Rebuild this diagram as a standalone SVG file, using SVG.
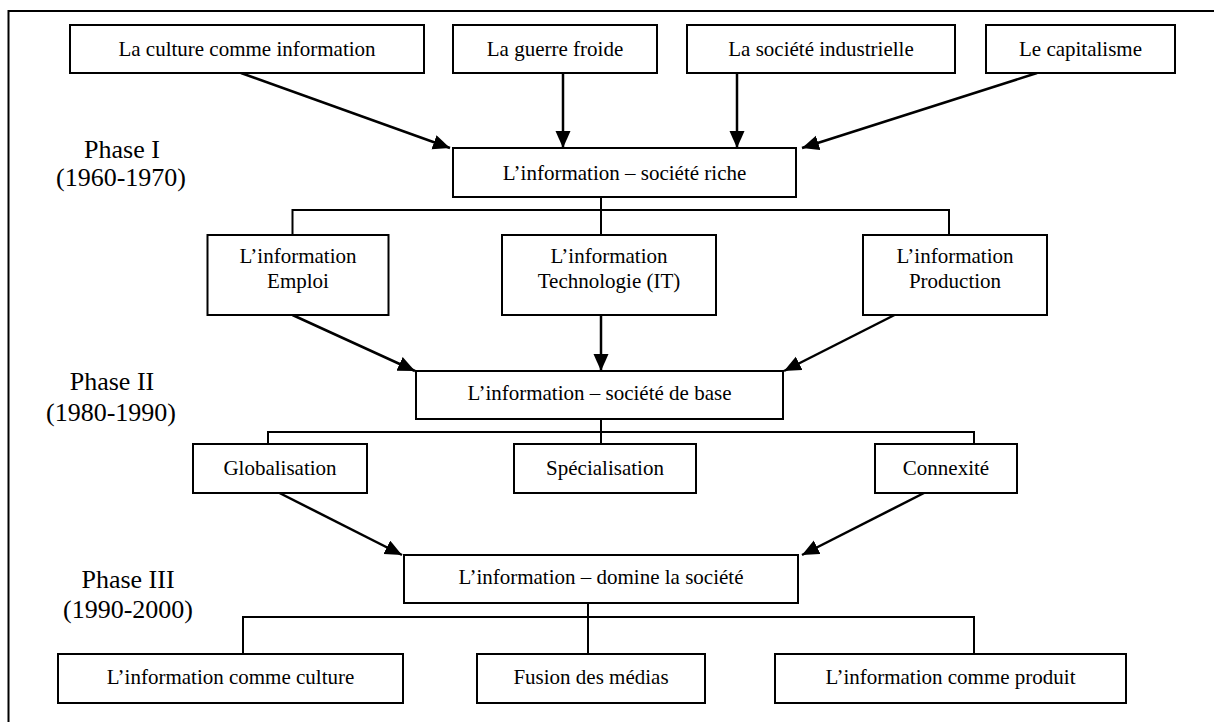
<svg xmlns="http://www.w3.org/2000/svg" width="1214" height="722" viewBox="0 0 1214 722">
<style>
.box{fill:#fff;stroke:#000;stroke-width:2}
.t{font-family:"Liberation Serif","Times New Roman",serif;font-size:21px;fill:#000;text-anchor:middle}
.ph{font-family:"Liberation Serif","Times New Roman",serif;font-size:26px;fill:#000;text-anchor:middle}
.arr{fill:none;stroke:#000;stroke-width:2.5;marker-end:url(#ah)}
.br{fill:none;stroke:#000;stroke-width:2}
.frame{fill:none;stroke:#000;stroke-width:2}
</style>
<defs>
<marker id="ah" markerUnits="userSpaceOnUse" markerWidth="18" markerHeight="16" refX="17" refY="7.5" orient="auto">
<path d="M0,0 L17,7.5 L0,15 Z" fill="#000"/>
</marker>
</defs>
<rect width="1214" height="722" fill="#fff"/>
<path class="frame" d="M8.5,722 V11 H1214"/>

<g id="phases">
<text class="ph" x="122" y="158">Phase I</text>
<text class="ph" x="121" y="186">(1960-1970)</text>
<text class="ph" x="112" y="390">Phase II</text>
<text class="ph" x="111" y="421">(1980-1990)</text>
<text class="ph" x="128" y="588">Phase III</text>
<text class="ph" x="128" y="618">(1990-2000)</text>
</g>

<g id="connectors">
<path class="arr" d="M241,73 L450,148"/>
<path class="arr" d="M563,73 L563,148"/>
<path class="arr" d="M737,73 L737,148"/>
<path class="arr" d="M1037,73 L802,148"/>
<path class="br" d="M601,197 V210 M292.5,235 V210 H949 V235 M601,210 V235"/>
<path class="arr" d="M292.5,315 L415,371"/>
<path class="arr" d="M601,315 L601,371"/>
<path class="arr" d="M894.5,315 L784,371"/>
<path class="br" d="M601,419 V432 M268,444 V432 H974 V444 M601,432 V444"/>
<path class="arr" d="M279.5,493 L402,555"/>
<path class="arr" d="M924,493 L802,555"/>
<path class="br" d="M588,603 V617 M243,654 V617 H974 V654 M588,617 V654"/>
</g>

<g id="n-culture"><rect class="box" x="70" y="25" width="354" height="48"/><text class="t" x="247" y="56">La culture comme information</text></g>
<g id="n-guerre"><rect class="box" x="453" y="25" width="204" height="48"/><text class="t" x="555" y="56">La guerre froide</text></g>
<g id="n-industrielle"><rect class="box" x="687" y="25" width="268" height="48"/><text class="t" x="821" y="56">La société industrielle</text></g>
<g id="n-capitalisme"><rect class="box" x="986" y="25" width="189" height="48"/><text class="t" x="1080.5" y="56">Le capitalisme</text></g>

<g id="n-riche"><rect class="box" x="453" y="148" width="343" height="49"/><text class="t" x="624.5" y="180">L’information – société riche</text></g>

<g id="n-emploi"><rect class="box" x="207.5" y="235" width="181" height="80"/><text class="t" x="298" y="263">L’information</text><text class="t" x="298" y="288">Emploi</text></g>
<g id="n-tech"><rect class="box" x="502" y="235" width="214" height="80"/><text class="t" x="609" y="263">L’information</text><text class="t" x="609" y="288">Technologie (IT)</text></g>
<g id="n-production"><rect class="box" x="863" y="235" width="184" height="80"/><text class="t" x="955" y="263">L’information</text><text class="t" x="955" y="288">Production</text></g>

<g id="n-base"><rect class="box" x="416" y="371" width="367" height="48"/><text class="t" x="599.5" y="400">L’information – société de base</text></g>

<g id="n-globalisation"><rect class="box" x="193" y="444" width="174" height="49"/><text class="t" x="280" y="475">Globalisation</text></g>
<g id="n-specialisation"><rect class="box" x="514" y="444" width="182" height="49"/><text class="t" x="605" y="475">Spécialisation</text></g>
<g id="n-connexite"><rect class="box" x="875" y="444" width="142" height="49"/><text class="t" x="946" y="475">Connexité</text></g>

<g id="n-domine"><rect class="box" x="404" y="555" width="394" height="48"/><text class="t" x="601" y="584">L’information – domine la société</text></g>

<g id="n-infoculture"><rect class="box" x="58" y="654" width="345" height="49"/><text class="t" x="230.5" y="684">L’information comme culture</text></g>
<g id="n-fusion"><rect class="box" x="477" y="654" width="228" height="49"/><text class="t" x="591" y="684">Fusion des médias</text></g>
<g id="n-produit"><rect class="box" x="775" y="654" width="351" height="49"/><text class="t" x="950.5" y="684">L’information comme produit</text></g>
</svg>
